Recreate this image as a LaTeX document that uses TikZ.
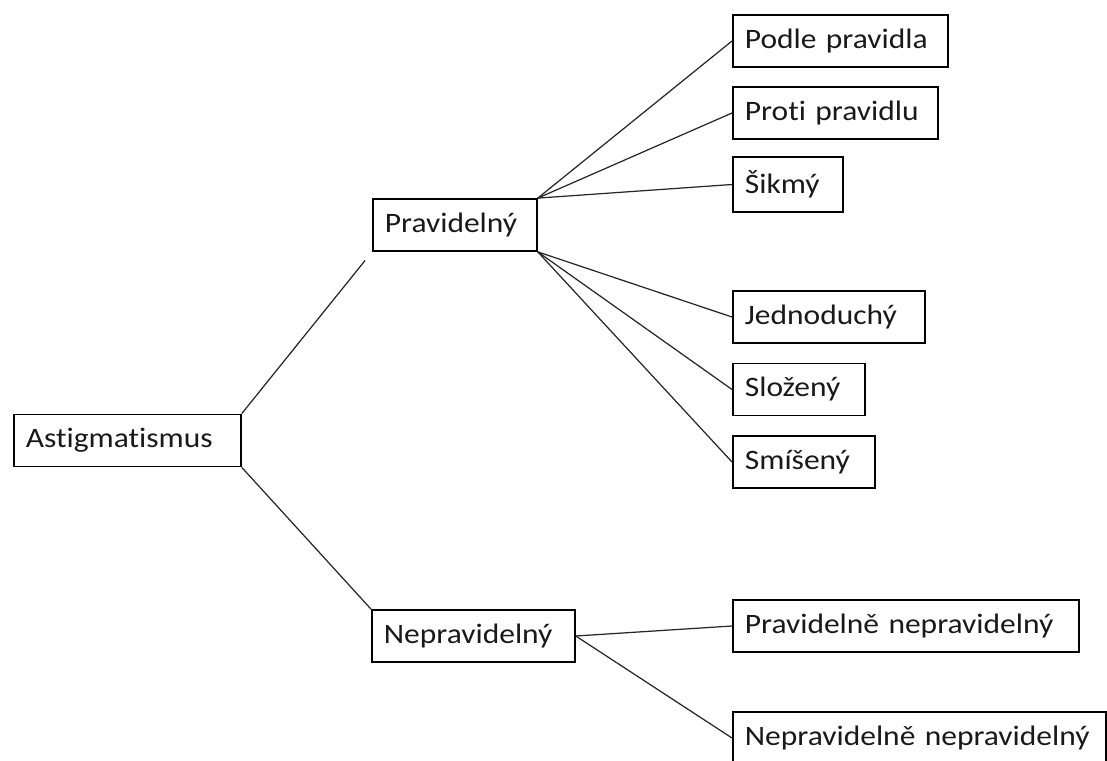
\documentclass[tikz,border=0pt]{standalone}
\usepackage{fontspec}
\setmainfont{Carlito}[FakeStretch=1.12, Ligatures=NoCommon]
\usetikzlibrary{positioning}

\begin{document}
\begin{tikzpicture}[
  font=\fontsize{16pt}{19pt}\selectfont,
  box/.style={rectangle, draw, line width=1pt, anchor=west, align=left, text=black!90,
    inner xsep=0.24cm, inner ysep=0pt, minimum height=1.04cm},
  link/.style={draw=black!85, line width=0.7pt}
]
  \useasboundingbox (0,0) rectangle (22.14,-15.22);
  \node[box, text width=4.06cm] (astig) at (0.26,-8.81) {Astigmatismus};
  \node[box, text width=2.80cm] (prav) at (7.44,-4.50) {Pravidelný};
  \node[box, text width=3.58cm] (neprav) at (7.42,-12.72) {Nepravidelný};
  \node[box, text width=3.82cm] (podle) at (14.64,-0.82) {Podle pravidla};
  \node[box, text width=3.62cm] (proti) at (14.64,-2.26) {Proti pravidlu};
  \node[box, text width=1.72cm, minimum height=1.10cm] (sikmy) at (14.64,-3.69) {Šikmý};
  \node[box, text width=3.36cm] (jedno) at (14.64,-6.34) {Jednoduchý};
  \node[box, text width=2.16cm] (slozeny) at (14.64,-7.79) {Složený};
  \node[box, text width=2.36cm] (smiseny) at (14.64,-9.24) {Smíšený};
  \node[box, text width=6.44cm] (pravnep) at (14.64,-12.52) {Pravidelně nepravidelný};
  \node[box, text width=6.98cm] (neprnep) at (14.64,-14.76) {Nepravidelně nepravidelný};
  \draw[link, shorten >=0.22cm] (astig.north east) -- (prav.south west);
  \draw[link] (astig.south east) -- (neprav.north west);
  \draw[link] (prav.north east) -- (podle.west);
  \draw[link] (prav.north east) -- (proti.west);
  \draw[link] (prav.north east) -- (sikmy.west);
  \draw[link] (prav.south east) -- (jedno.west);
  \draw[link] (prav.south east) -- (slozeny.west);
  \draw[link] (prav.south east) -- (smiseny.west);
  \draw[link] (neprav.east) -- (pravnep.west);
  \draw[link] (neprav.east) -- (neprnep.west);
\end{tikzpicture}
\end{document}
